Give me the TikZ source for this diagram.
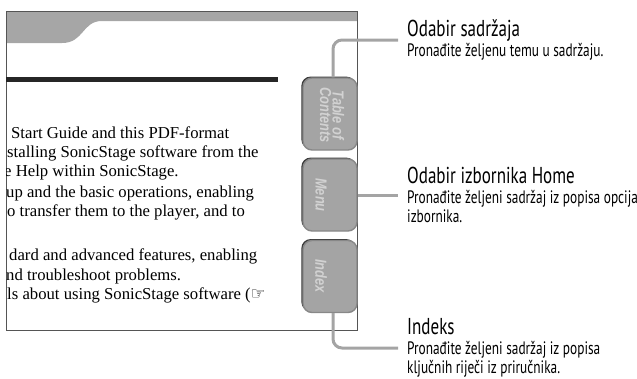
\documentclass[tikz,border=0pt]{standalone}
\usepackage{fontspec}
\usepackage{tikz}
\usepackage{xcolor}
\usetikzlibrary{positioning}
\setmainfont{Liberation Serif}
\newfontfamily\capfont[FakeStretch=0.74]{PT Sans}
\newfontfamily\tabfont[FakeStretch=0.8]{Liberation Sans}
\newfontfamily\symfont{DejaVu Sans}
\definecolor{tabgray}{HTML}{A4A4A4}
\definecolor{tabedge}{HTML}{888888}
\definecolor{tabshade}{HTML}{3A3A3A}
\definecolor{tablabel}{HTML}{D2D2D2}
\definecolor{linkgray}{HTML}{A4A4A4}
\definecolor{bannergray}{HTML}{A6A6A6}
\definecolor{framegray}{HTML}{555555}

\begin{document}
\begin{tikzpicture}[x=1pt,y=-1pt,
  tab/.style={draw=tabedge,fill=tabgray,line width=1.4pt,rounded corners=9pt,
    minimum width=54pt,minimum height=72pt,inner sep=0pt,
    preaction={fill=tabshade,transform canvas={shift={(-1.6pt,1.4pt)}}}},
  tabtext/.style={rotate=-90,text=tablabel,inner sep=0pt,align=center,
    font=\tabfont\bfseries\itshape\fontsize{16}{12.5}\selectfont},
  link/.style={draw=linkgray,line width=3pt,rounded corners=9pt,shorten >=9pt},
  body/.style={anchor=base west,inner sep=0pt,font=\fontsize{16.7}{19}\selectfont},
  callout/.style={anchor=west,inner sep=0pt,align=left,
    font=\capfont\fontsize{18}{19.5}\selectfont}]
  \useasboundingbox (0,0) rectangle (637,378);

  \fill[bannergray] (6,11) -- (357,11) -- (357,21) -- (102,21)
    .. controls (82,21) and (84,43) .. (62,43) -- (6,43) -- cycle;
  \draw[framegray,line width=0.8pt] (6,11) rectangle (357.5,330);
  \fill[black!85] (6,77) rectangle (278,82);

  \begin{scope}
    \clip (6,11) rectangle (357,330);
    \node[body] (ln1) at (11,138) {Start Guide and this PDF-format};
    \node[body] (ln2) at (7,157) {stalling SonicStage software from the};
    \node[body] (ln3) at (4,176) {e Help within SonicStage.};
    \node[body] (ln4) at (6,197) {up and the basic operations, enabling};
    \node[body] (ln5) at (7,216) {o transfer them to the player, and to};
    \node[body] (ln6) at (9,260) {dard and advanced features, enabling};
    \node[body] (ln7) at (6,280) {nd troubleshoot problems.};
    \node[body] (ln8) at (7,299) {ls about using SonicStage software ({\symfont ☞}};
  \end{scope}

  \node[tab] (toc) at (330,114) {};
  \node[tabtext] (toct) at (332,115) {Table of\\Contents};
  \node[tab] (mnu) at (330,195) {};
  \node[tabtext] (mnut) at (321,195) {Menu};
  \node[tab] (idx) at (330,276.5) {};
  \node[tabtext] (idxt) at (321,276) {Index};

  \node[callout] (tocl) at (407,40)
    {{\fontsize{23}{21}\selectfont Odabir sadržaja}\\
     Pronađite željenu temu u sadržaju.};
  \node[callout] (mnul) at (407,195)
    {{\fontsize{23}{21}\selectfont Odabir izbornika Home}\\
     Pronađite željeni sadržaj iz popisa opcija\\ izbornika.};
  \node[callout] (idxl) at (407,348)
    {{\fontsize{23}{21}\selectfont Indeks}\\
     Pronađite željeni sadržaj iz popisa\\ ključnih riječi iz priručnika.};

  \path (toc.north) +(3,0) coordinate (toco);
  \path (idx.south) +(3,0) coordinate (idxo);
  \draw[link] (toco) |- (tocl.west);
  \draw[link] (mnu.east) -- (mnul.west);
  \draw[link] (idxo) |- (idxl.west);
\end{tikzpicture}
\end{document}
